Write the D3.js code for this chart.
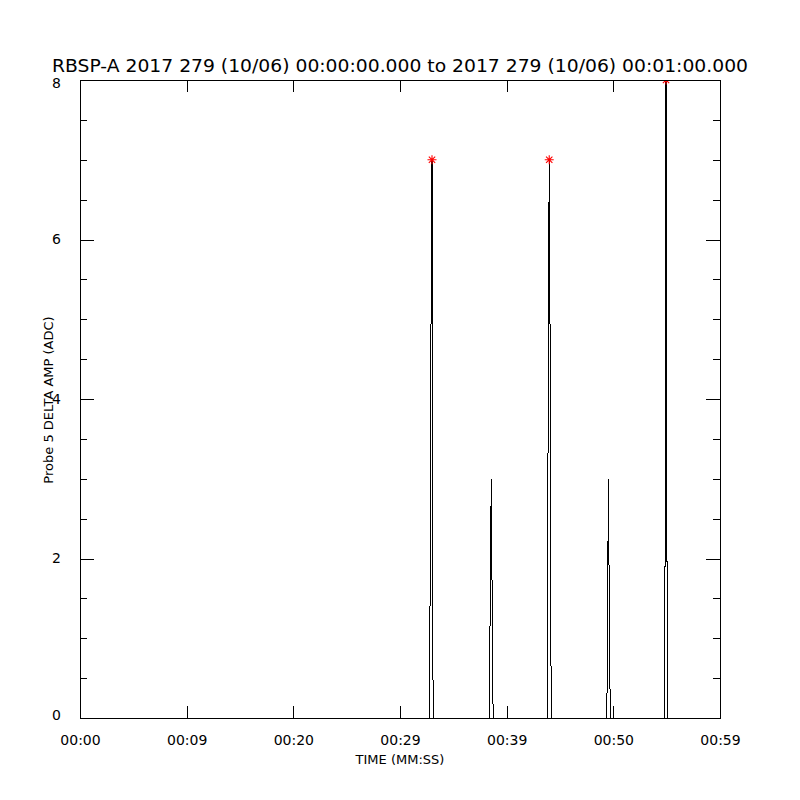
<!DOCTYPE html>
<html><head><meta charset="utf-8">
<script src="https://cdn.jsdelivr.net/npm/d3@7"></script>
<style>body{margin:0;background:#fff}</style>
</head><body>
<svg id="chart" width="800" height="800"></svg>
<script>
const titleText = "RBSP-A 2017 279 (10/06) 00:00:00.000 to 2017 279 (10/06) 00:01:00.000";
const xTitle = "TIME (MM:SS)";
const yTitle = "Probe 5 DELTA AMP (ADC)";
const xTickValues = [0, 10, 20, 30, 40, 50, 60];
const xTickLabels = ["00:00", "00:09", "00:20", "00:29", "00:39", "00:50", "00:59"];
const yMajorTicks = [0, 2, 4, 6, 8];
const yMinorTicks = [0.5,1,1.5,2.5,3,3.5,4.5,5,5.5,6.5,7,7.5];
// sample times (s) and amplitudes (ADC)
const sampleTimes = [0,
  32.73, 32.82, 32.91, 33.00, 33.09, 33.18,
  38.37, 38.46, 38.50, 38.55, 38.64, 38.73,
  43.81, 43.90, 43.99, 44.08, 44.17,
  49.35, 49.44, 49.53, 49.62, 49.71,
  54.76, 54.85, 54.90, 54.94, 55.03, 55.12,
  60];
const sampleValues = [0,
  0, 1.5, 5, 7, 0.5, 0,
  0, 1.5, 2, 3, 1.5, 0,
  0, 4.5, 7, 4.5, 0,
  0, 0.5, 3, 1.5, 0,
  0, 2, 6, 8, 2, 0,
  0];
const flagThreshold = 7;

const svg = d3.select("#chart");
const L = 80, R = 720, T = 80, B = 718;
const x = d3.scaleLinear().domain([0, 60]).range([L, R]);
const y = d3.scaleLinear().domain([0, 8]).range([B, T]);
const font = "DejaVu Sans, sans-serif";

svg.append("rect").attr("width", 800).attr("height", 800).attr("fill", "#fff");

svg.append("defs").append("clipPath").attr("id", "clip")
  .append("rect").attr("x", L).attr("y", T).attr("width", R - L).attr("height", B - T);

const data = sampleTimes.map((t, i) => ({t, v: sampleValues[i]}));

// data line
svg.append("path")
  .datum(data)
  .attr("clip-path", "url(#clip)")
  .attr("fill", "none")
  .attr("stroke", "#000")
  .attr("stroke-width", 1)
  .attr("shape-rendering", "crispEdges")
  .attr("d", d3.line().x(d => x(d.t)).y(d => y(d.v)));

// red asterisks (8-arm) at flagged points
const starR = 4.5;
function asterisk() {
  const p = d3.path();
  const d = starR * Math.SQRT1_2;
  p.moveTo(0, -starR); p.lineTo(0, starR);
  p.moveTo(-starR, 0); p.lineTo(starR, 0);
  p.moveTo(-d, -d); p.lineTo(d, d);
  p.moveTo(-d, d); p.lineTo(d, -d);
  return p.toString();
}
svg.append("g").attr("clip-path", "url(#clip)")
  .selectAll("path").data(data.filter(d => d.v >= flagThreshold)).join("path")
  .attr("transform", d => `translate(${x(d.t)},${y(d.v)})`)
  .attr("d", asterisk())
  .attr("fill", "none").attr("stroke", "#ff0000").attr("stroke-width", 1.1);

// frame
svg.append("rect").attr("x", L).attr("y", T).attr("width", R - L).attr("height", B - T)
  .attr("fill", "none").attr("stroke", "#000").attr("stroke-width", 1).attr("shape-rendering", "crispEdges");

// axes
const xb = d3.axisBottom(x).tickValues(xTickValues).tickFormat((d, i) => xTickLabels[i]).tickSizeInner(-12).tickSizeOuter(0).tickPadding(17);
const xt = d3.axisTop(x).tickValues(xTickValues).tickFormat("").tickSizeInner(-12).tickSizeOuter(0);
const yl = d3.axisLeft(y).tickValues(yMajorTicks).tickFormat(d3.format("d")).tickSizeInner(-14).tickSizeOuter(0).tickPadding(19);
const yr = d3.axisRight(y).tickValues(yMajorTicks).tickFormat("").tickSizeInner(-14).tickSizeOuter(0);
const ylm = d3.axisLeft(y).tickValues(yMinorTicks).tickFormat("").tickSizeInner(-7).tickSizeOuter(0);
const yrm = d3.axisRight(y).tickValues(yMinorTicks).tickFormat("").tickSizeInner(-7).tickSizeOuter(0);

function style(g) {
  g.select(".domain").remove();
  g.selectAll("line").attr("stroke", "#000").attr("shape-rendering", "crispEdges");
  g.selectAll("text").attr("font-family", font).attr("font-size", 14).attr("fill", "#000");
}
svg.append("g").attr("transform", `translate(0,${B})`).call(xb).call(style);
svg.append("g").attr("transform", `translate(0,${T})`).call(xt).call(style);
svg.append("g").attr("transform", `translate(${L},0)`).call(yl).call(style)
  .selectAll("text").attr("dy", (d) => d === 0 ? "0.1em" : (d === 8 ? "0.55em" : "0.32em"));
svg.append("g").attr("transform", `translate(${R},0)`).call(yr).call(style);
svg.append("g").attr("transform", `translate(${L},0)`).call(ylm).call(style);
svg.append("g").attr("transform", `translate(${R},0)`).call(yrm).call(style);

// titles
svg.append("text").attr("x", 400).attr("y", 72).attr("text-anchor", "middle")
  .attr("font-family", font).attr("font-size", 17).attr("fill", "#000")
  .attr("textLength", 696).attr("lengthAdjust", "spacingAndGlyphs").text(titleText);
svg.append("text").attr("x", 400).attr("y", 764).attr("text-anchor", "middle")
  .attr("font-family", font).attr("font-size", 13).attr("fill", "#000").text(xTitle);
svg.append("text").attr("transform", "translate(53,400) rotate(-90)").attr("text-anchor", "middle")
  .attr("font-family", font).attr("font-size", 13).attr("fill", "#000").text(yTitle);
</script>
</body></html>
